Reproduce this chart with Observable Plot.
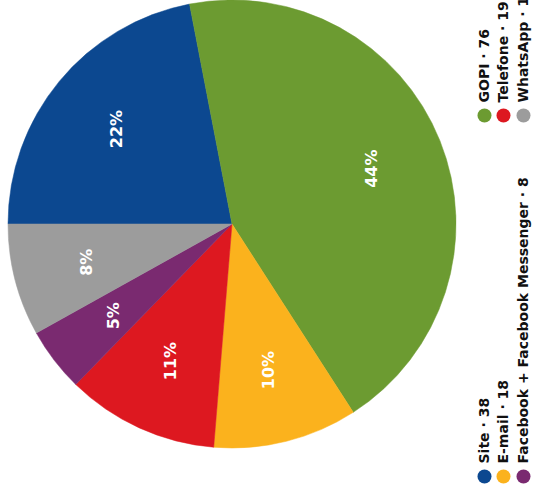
<!DOCTYPE html>
<html>
<head>
<meta charset="utf-8">
<script src="https://cdn.jsdelivr.net/npm/d3@7"></script>
<script src="https://cdn.jsdelivr.net/npm/@observablehq/plot@0.6"></script>
<style>
  html, body { margin: 0; padding: 0; background: #fff; overflow: hidden; }
  #chart svg { display: block; }
</style>
</head>
<body>
<div id="chart"></div>
<script>
// Data
const categories = ["Site", "GOPI", "E-mail", "Telefone", "Facebook + Facebook Messenger", "WhatsApp"];
const counts = [38, 76, 18, 19, 8, 14];
const percentLabels = ["22%", "44%", "10%", "11%", "5%", "8%"];
const colors = ["#0c4890", "#6c9b31", "#fbb21d", "#dd1820", "#7a2a70", "#9c9c9c"];
// Legend order: two groups (bottom group and top group in the rotated picture)
const legendBottom = ["Site", "E-mail", "Facebook + Facebook Messenger"];
const legendTop = ["GOPI", "Telefone", "WhatsApp"];

const W = 539, H = 495;
const cx = 232, cy = 224, R = 224, labelR = 150;
const start = 1.5 * Math.PI; // the whole chart is turned a quarter turn counter-clockwise

const pie = d3.pie().sort(null).value(d => d.count).startAngle(start).endAngle(start + 2 * Math.PI);
const rows = categories.map((c, i) => ({category: c, count: counts[i], pct: percentLabels[i], color: colors[i]}));
const arcs = pie(rows);
const arcGen = d3.arc().innerRadius(0).outerRadius(R);
const labelArc = d3.arc().innerRadius(labelR).outerRadius(labelR);

const labelData = arcs.map(a => {
  const [dx, dy] = labelArc.centroid(a);
  return {x: cx + dx, y: cy + dy, text: a.data.pct};
});

const colorOf = Object.fromEntries(rows.map(r => [r.category, r]));
const colX = [484, 503, 523];
const legendData = [];
legendBottom.forEach((c, i) => legendData.push({x: colX[i], dotY: 476, textY: 463, text: `${c} · ${colorOf[c].count}`, color: colorOf[c].color}));
legendTop.forEach((c, i) => legendData.push({x: colX[i], dotY: 115, textY: 102, text: `${c} · ${colorOf[c].count}`, color: colorOf[c].color}));

function pieMark(index, scales) {
  const sx = scales && scales.x ? scales.x : (v => v);
  const sy = scales && scales.y ? scales.y : (v => v);
  const g = d3.create("svg:g").attr("transform", `translate(${sx(cx)},${sy(cy)})`);
  g.selectAll("path").data(arcs).join("path")
    .attr("d", arcGen)
    .attr("fill", d => d.data.color)
    .attr("stroke", d => d.data.color)
    .attr("stroke-width", 0.5);
  return g.node();
}

const chart = Plot.plot({
  width: W,
  height: H,
  margin: 0,
  x: {domain: [0, W], range: [0, W], axis: null},
  y: {domain: [0, H], range: [0, H], axis: null},
  style: {background: "#fff", fontFamily: "'DejaVu Sans', 'Liberation Sans', sans-serif"},
  marks: [
    pieMark,
    Plot.text(labelData, {
      x: "x", y: "y", text: "text", rotate: -90,
      fill: "#fff", fontSize: 16, fontWeight: "bold", textAnchor: "middle", lineAnchor: "middle"
    }),
    Plot.dot(legendData, {x: "x", y: "dotY", r: 7, fill: d => d.color, stroke: "none"}),
    Plot.text(legendData, {
      x: "x", y: "textY", text: "text", rotate: -90,
      fill: "#111", fontSize: 14, fontWeight: "bold", textAnchor: "start", lineAnchor: "middle"
    })
  ]
});
document.getElementById("chart").appendChild(chart);
</script>
</body>
</html>
